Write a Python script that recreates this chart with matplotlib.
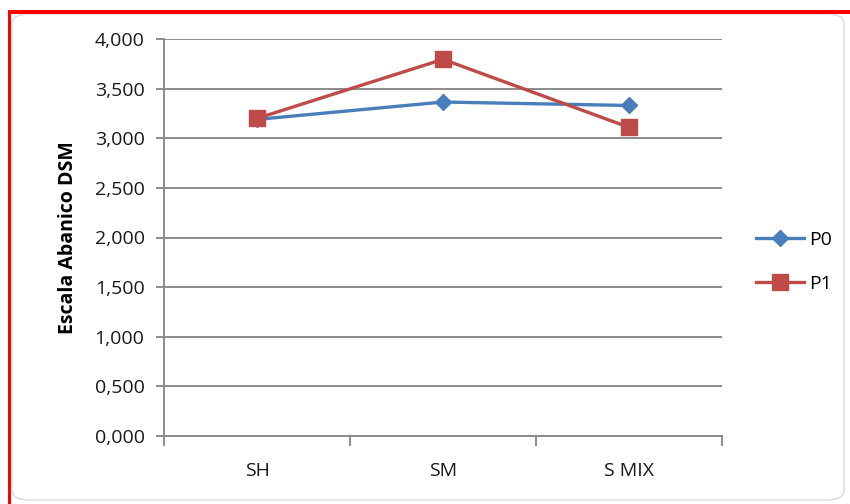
import matplotlib
matplotlib.use("Agg")
import matplotlib.pyplot as plt
from matplotlib.patches import FancyBboxPatch, Rectangle
from matplotlib.ticker import FuncFormatter, FixedLocator, NullFormatter
from matplotlib.lines import Line2D

plt.rcParams["font.family"] = ["Open Sans", "DejaVu Sans"]

categories = ["SH", "SM", "S MIX"]
p0 = [3.19, 3.365, 3.33]
p1 = [3.20, 3.795, 3.11]
y_ticks = [0, 0.5, 1.0, 1.5, 2.0, 2.5, 3.0, 3.5, 4.0]

C_P0, C_P1 = "#4A7EBB", "#BE4B48"
C_GRID = "#8C8C8C"
FS = 14

W, H = 850, 504
fig = plt.figure(figsize=(W / 100, H / 100), dpi=100)
fig.patch.set_facecolor("white")

# rounded chart frame + red outline on top/left
fig.add_artist(FancyBboxPatch((12 / W, 4 / H), 832 / W, 486 / H,
                              boxstyle="round,pad=0,rounding_size=0.02",
                              transform=fig.transFigure, fc="white",
                              ec="#D5DCE0", lw=1.0, zorder=-2))
fig.add_artist(Rectangle((8 / W, (H - 14) / H), (W - 8) / W, 4 / H,
                         transform=fig.transFigure, color="#FF0000", lw=0, zorder=-1))
fig.add_artist(Rectangle((8 / W, 0), 3 / W, (H - 10) / H,
                         transform=fig.transFigure, color="#FF0000", lw=0, zorder=-1))

ax = fig.add_axes([164 / W, (H - 436) / H, (722 - 164) / W, (436 - 39) / H])
ax.set_facecolor("none")
x = range(len(categories))
ax.plot(x, p0, color=C_P0, lw=2.4, marker="D", ms=8.5, mfc=C_P0, mec=C_P0,
        zorder=3, label="P0")
ax.plot(x, p1, color=C_P1, lw=2.4, marker="s", ms=11, mfc=C_P1, mec=C_P1,
        zorder=4, label="P1")

ax.set_xlim(-0.5, len(categories) - 0.5)
ax.set_ylim(0, 4)
ax.yaxis.set_major_locator(FixedLocator(y_ticks))
ax.yaxis.set_major_formatter(FuncFormatter(lambda v, p: f"{v:.3f}".replace(".", ",")))
ax.grid(axis="y", color=C_GRID, lw=1.4)
ax.set_axisbelow(True)

ax.set_xticks([i - 0.5 for i in range(len(categories) + 1)])
ax.xaxis.set_major_formatter(NullFormatter())
ax.set_xticks(list(x), minor=True)
ax.set_xticklabels(categories, minor=True)
ax.tick_params(axis="x", which="minor", length=0, pad=19, labelsize=FS, colors="#1A1A1A")
ax.tick_params(axis="x", which="major", length=7, width=1.4, color=C_GRID)
ax.tick_params(axis="y", length=6, width=1.4, color=C_GRID, labelsize=FS,
               labelcolor="#1A1A1A", pad=8)

for side in ("top", "right"):
    ax.spines[side].set_visible(False)
for side in ("left", "bottom"):
    ax.spines[side].set_color(C_GRID)
    ax.spines[side].set_linewidth(1.4)

ax.set_ylabel("Escala Abanico DSM", fontsize=14, fontweight="bold", labelpad=12)

handles = [Line2D([], [], color=C_P0, lw=2.4, marker="D", ms=8.5),
           Line2D([], [], color=C_P1, lw=2.4, marker="s", ms=11)]
fig.legend(handles, ["P0", "P1"], loc="center left",
           bbox_to_anchor=(738 / W, (H - 262) / H), frameon=False,
           fontsize=FS, handlelength=2.5, handletextpad=0.25, labelspacing=1.35)

fig.savefig("out.png", dpi=100, facecolor="white")
